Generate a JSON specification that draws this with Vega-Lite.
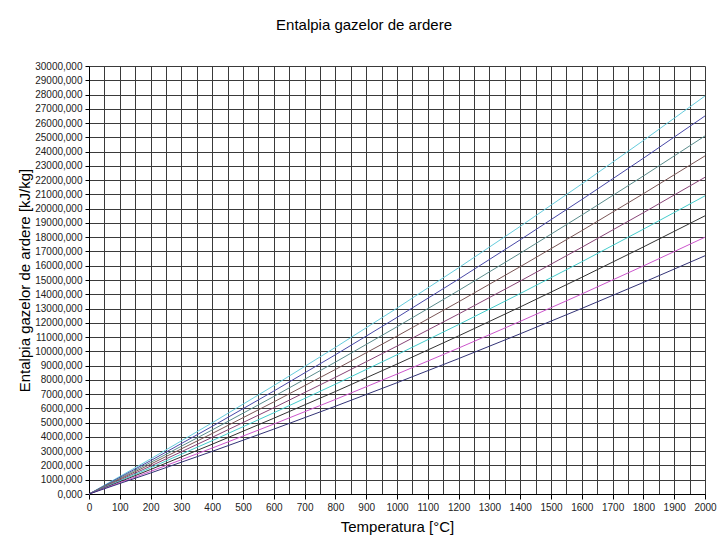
{
  "$schema": "https://vega.github.io/schema/vega-lite/v6.json",
  "autosize": {"type": "none"},
  "width": 616,
  "height": 428,
  "padding": {"left": 89, "top": 66, "right": 23, "bottom": 59},
  "background": "white",
  "config": {
    "font": "Liberation Sans",
    "view": {"stroke": null},
    "axis": {"labelFont": "Liberation Sans", "titleFont": "Liberation Sans", "labelColor": "#222", "titleColor": "#000", "titleFontWeight": "normal"}
  },
  "title": {"text": "Entalpia gazelor de ardere", "fontSize": 15, "fontWeight": "normal", "font": "Liberation Sans", "anchor": "middle", "dx": -33, "offset": 28, "color": "#000"},
  "data": {"values": [
    {"T":0,"s":"1","h":0},{"T":200,"s":"1","h":2458},{"T":400,"s":"1","h":4991},{"T":600,"s":"1","h":7597},{"T":800,"s":"1","h":10276},{"T":1000,"s":"1","h":13029},{"T":1200,"s":"1","h":15856},{"T":1400,"s":"1","h":18757},{"T":1600,"s":"1","h":21731},{"T":1800,"s":"1","h":24778},{"T":2000,"s":"1","h":27900},
    {"T":0,"s":"2","h":0},{"T":200,"s":"2","h":2335},{"T":400,"s":"2","h":4741},{"T":600,"s":"2","h":7216},{"T":800,"s":"2","h":9760},{"T":1000,"s":"2","h":12376},{"T":1200,"s":"2","h":15060},{"T":1400,"s":"2","h":17816},{"T":1600,"s":"2","h":20641},{"T":1800,"s":"2","h":23535},{"T":2000,"s":"2","h":26500},
    {"T":0,"s":"3","h":0},{"T":200,"s":"3","h":2211},{"T":400,"s":"3","h":4490},{"T":600,"s":"3","h":6835},{"T":800,"s":"3","h":9244},{"T":1000,"s":"3","h":11722},{"T":1200,"s":"3","h":14264},{"T":1400,"s":"3","h":16875},{"T":1600,"s":"3","h":19550},{"T":1800,"s":"3","h":22291},{"T":2000,"s":"3","h":25100},
    {"T":0,"s":"4","h":0},{"T":200,"s":"4","h":2088},{"T":400,"s":"4","h":4240},{"T":600,"s":"4","h":6454},{"T":800,"s":"4","h":8729},{"T":1000,"s":"4","h":11068},{"T":1200,"s":"4","h":13469},{"T":1400,"s":"4","h":15934},{"T":1600,"s":"4","h":18460},{"T":1800,"s":"4","h":21048},{"T":2000,"s":"4","h":23700},
    {"T":0,"s":"5","h":0},{"T":200,"s":"5","h":1956},{"T":400,"s":"5","h":3972},{"T":600,"s":"5","h":6045},{"T":800,"s":"5","h":8176},{"T":1000,"s":"5","h":10367},{"T":1200,"s":"5","h":12616},{"T":1400,"s":"5","h":14925},{"T":1600,"s":"5","h":17292},{"T":1800,"s":"5","h":19716},{"T":2000,"s":"5","h":22200},
    {"T":0,"s":"6","h":0},{"T":200,"s":"6","h":1841},{"T":400,"s":"6","h":3739},{"T":600,"s":"6","h":5691},{"T":800,"s":"6","h":7697},{"T":1000,"s":"6","h":9760},{"T":1200,"s":"6","h":11877},{"T":1400,"s":"6","h":14051},{"T":1600,"s":"6","h":16279},{"T":1800,"s":"6","h":18561},{"T":2000,"s":"6","h":20900},
    {"T":0,"s":"7","h":0},{"T":200,"s":"7","h":1718},{"T":400,"s":"7","h":3489},{"T":600,"s":"7","h":5310},{"T":800,"s":"7","h":7182},{"T":1000,"s":"7","h":9107},{"T":1200,"s":"7","h":11082},{"T":1400,"s":"7","h":13110},{"T":1600,"s":"7","h":15189},{"T":1800,"s":"7","h":17318},{"T":2000,"s":"7","h":19500},
    {"T":0,"s":"8","h":0},{"T":200,"s":"8","h":1586},{"T":400,"s":"8","h":3220},{"T":600,"s":"8","h":4901},{"T":800,"s":"8","h":6629},{"T":1000,"s":"8","h":8406},{"T":1200,"s":"8","h":10229},{"T":1400,"s":"8","h":12101},{"T":1600,"s":"8","h":14020},{"T":1800,"s":"8","h":15986},{"T":2000,"s":"8","h":18000},
    {"T":0,"s":"9","h":0},{"T":200,"s":"9","h":1471},{"T":400,"s":"9","h":2988},{"T":600,"s":"9","h":4547},{"T":800,"s":"9","h":6151},{"T":1000,"s":"9","h":7799},{"T":1200,"s":"9","h":9491},{"T":1400,"s":"9","h":11227},{"T":1600,"s":"9","h":13008},{"T":1800,"s":"9","h":14831},{"T":2000,"s":"9","h":16700}
  ]},
  "mark": {"type": "line", "strokeWidth": 1},
  "encoding": {
    "x": {
      "field": "T", "type": "quantitative",
      "scale": {"domain": [0, 2000], "nice": false},
      "axis": {
        "title": "Temperatura [°C]",
        "titleFontSize": 15,
        "titlePadding": 7,
        "values": [0,50,100,150,200,250,300,350,400,450,500,550,600,650,700,750,800,850,900,950,1000,1050,1100,1150,1200,1250,1300,1350,1400,1450,1500,1550,1600,1650,1700,1750,1800,1850,1900,1950,2000],
        "labelExpr": "datum.value % 100 === 0 ? datum.value : ''",
        "labelFontSize": 10,
        "labelPadding": 3,
        "labelFlush": false,
        "tickSize": 5,
        "tickColor": "#000",
        "tickOpacity": {"condition": {"test": "datum.value % 100 === 0", "value": 1}, "value": 0},
        "domainColor": "#000",
        "grid": true,
        "gridColor": "#3a3a3a",
        "gridWidth": 1,
        "gridOpacity": 1
      }
    },
    "y": {
      "field": "h", "type": "quantitative",
      "scale": {"domain": [0, 30000], "nice": false},
      "axis": {
        "title": "Entalpia gazelor de ardere [kJ/kg]",
        "titleFontSize": 15,
        "titlePadding": 2,
        "values": [0,1000,2000,3000,4000,5000,6000,7000,8000,9000,10000,11000,12000,13000,14000,15000,16000,17000,18000,19000,20000,21000,22000,23000,24000,25000,26000,27000,28000,29000,30000],
        "labelExpr": "format(datum.value, 'd') + ',000'",
        "labelFontSize": 10,
        "labelPadding": 3,
        "labelFlush": false,
        "tickSize": 4,
        "tickColor": "#000",
        "domainColor": "#000",
        "grid": true,
        "gridColor": "#3a3a3a",
        "gridWidth": 1,
        "gridOpacity": 1
      }
    },
    "color": {
      "field": "s", "type": "nominal",
      "scale": {"domain": ["1","2","3","4","5","6","7","8","9"], "range": ["#66ccdd","#4848a8","#5a8c8c","#7a5555","#884477","#44cccc","#333333","#cc55cc","#333377"]},
      "legend": null
    }
  }
}
